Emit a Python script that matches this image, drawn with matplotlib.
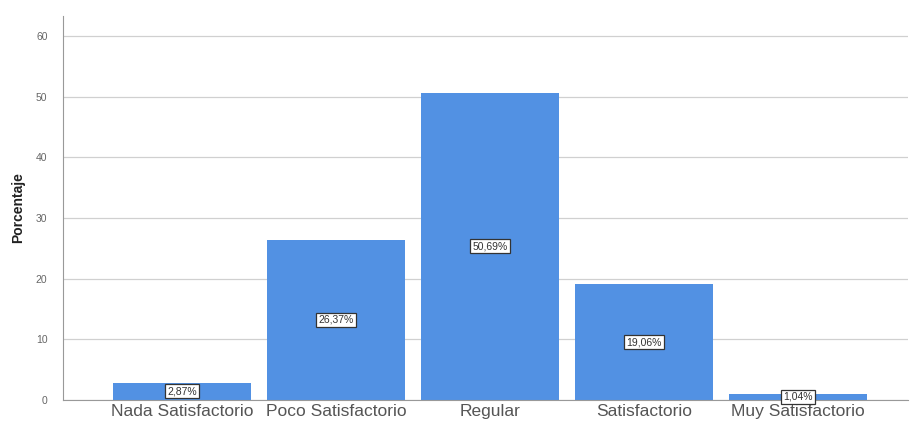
import matplotlib.pyplot as plt
import numpy as np

categorias = ['Nada Satisfactorio', 'Poco Satisfactorio', 'Regular', 'Satisfactorio', 'Muy Satisfactorio']
porcentajes = [2.87, 26.37, 50.69, 19.06, 1.04]
etiquetas = ['2,87%', '26,37%', '50,69%', '19,06%', '1,04%']

plt.rcParams['font.family'] = ['Liberation Sans', 'DejaVu Sans']

fig = plt.figure(figsize=(9.1, 4.25), dpi=100)
ax = fig.add_axes([0.069, 0.059, 0.929, 0.903])

x = np.arange(len(categorias))
barras = ax.bar(x, porcentajes, width=0.896, color='#5291e3', zorder=2)

# etiquetas en el centro de cada barra
for b, txt in zip(barras, etiquetas):
    ax.text(b.get_x() + b.get_width() / 2, b.get_height() / 2, txt,
            ha='center', va='center', fontsize=7.5, color='#333333', zorder=3,
            bbox=dict(boxstyle='square,pad=0.2', fc='white', ec='#333333', lw=0.9))

ax.set_xlim(-0.773, 4.714)
ax.set_ylim(0, 63.3)
ax.set_yticks([0, 10, 20, 30, 40, 50, 60])
ax.set_xticks(x)
ax.set_xticklabels(categorias, fontsize=12.5, color='#555555')
ax.tick_params(axis='y', labelsize=7.5, colors='#666666', length=0, pad=11)
ax.tick_params(axis='x', length=0, pad=3)
ax.set_ylabel('Porcentaje', fontsize=10, fontweight='bold', color='#222222', labelpad=8)

ax.grid(axis='y', color='#d0d0d0', lw=0.9, zorder=0)
ax.spines['top'].set_visible(False)
ax.spines['right'].set_visible(False)
ax.spines['left'].set_color('#999999')
ax.spines['bottom'].set_color('#999999')

plt.savefig('out.png', dpi=100)
